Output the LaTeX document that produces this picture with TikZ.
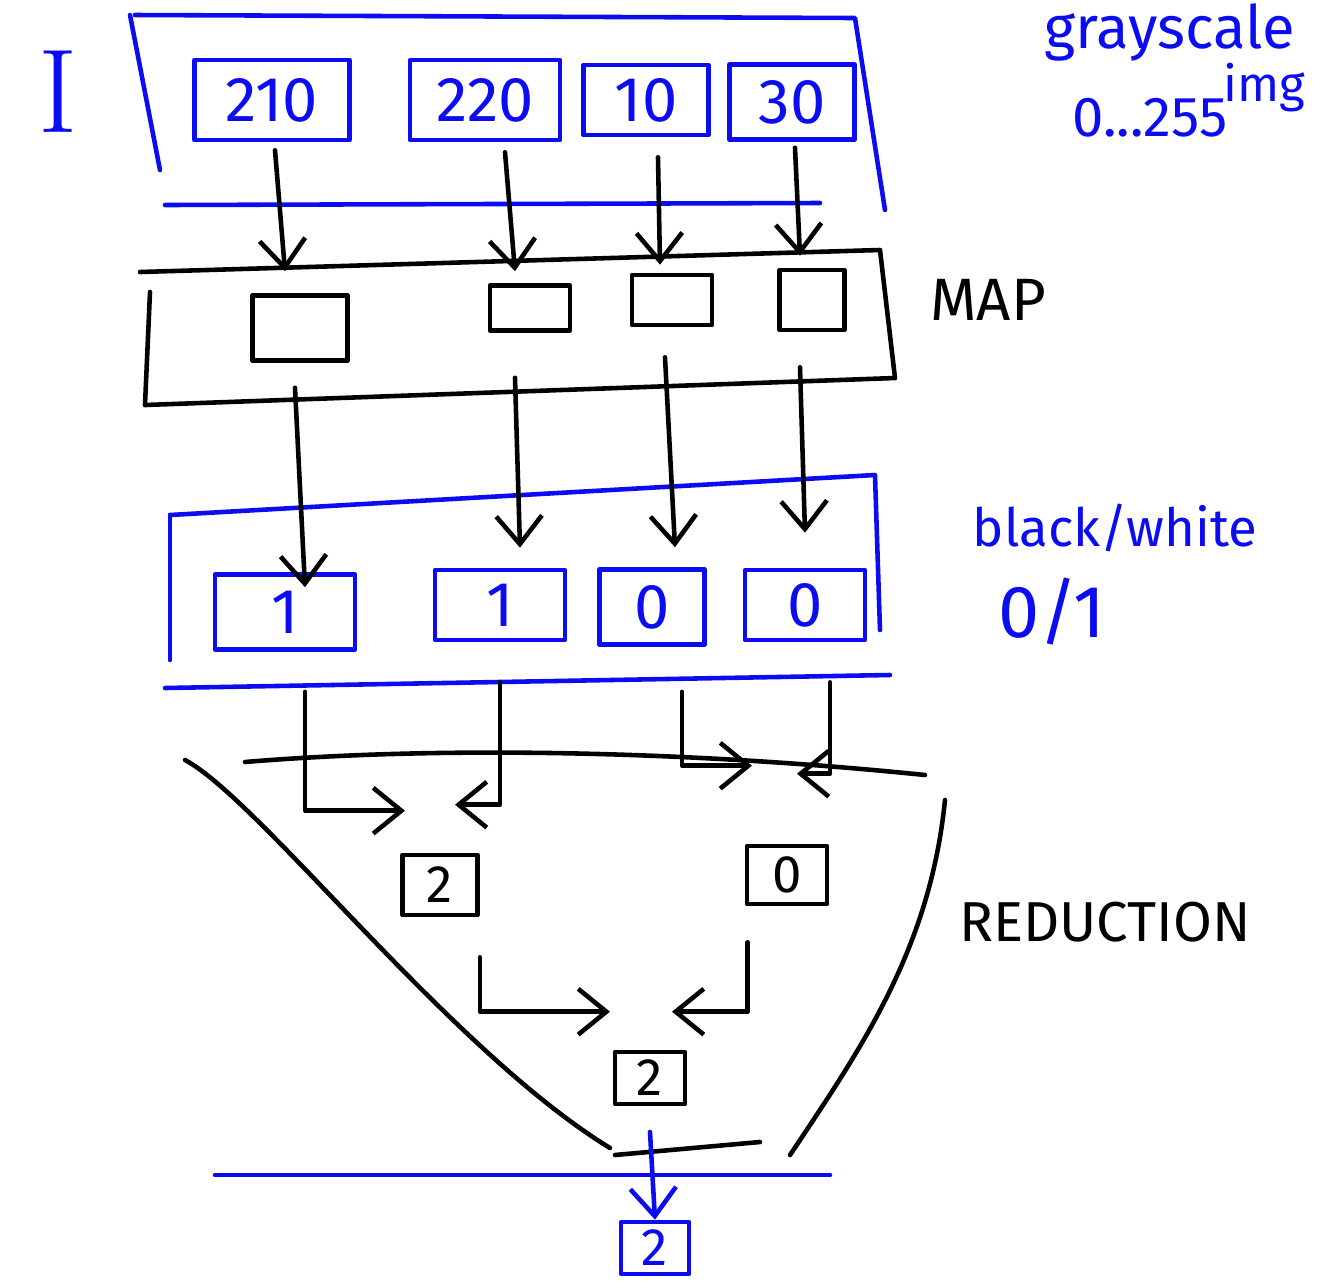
\documentclass[tikz,border=0pt]{standalone}
\usepackage{fontspec}
\setsansfont{Fira Sans}
\usetikzlibrary{calc,arrows.meta}
\definecolor{penblue}{RGB}{12,12,240}
\tikzset{
	ink/.style={line width=1.3pt, line cap=round, line join=round},
	blueink/.style={ink, draw=penblue},
	blackink/.style={ink, draw=black},
	cellbox/.style={inner sep=0pt, font=\sffamily\fontsize{18}{22}\selectfont},
	smallbox/.style={inner sep=0pt, font=\sffamily\fontsize{15}{18}\selectfont},
	gcell/.style={cellbox, blueink, text=penblue},
	kcell/.style={cellbox, blackink},
	arr/.style={blackink, -{Straight Barb[length=8pt,width=13pt]}},
	barr/.style={blueink, -{Straight Barb[length=8pt,width=13pt]}},
	bluelabel/.style={text=penblue, font=\sffamily\fontsize{16}{20}\selectfont},
	blacklabel/.style={font=\sffamily\fontsize{16}{20}\selectfont}
}

\begin{document}
\begin{tikzpicture}[x=0.01cm, y=-0.01cm]
			%%%%% START %%%%%
			\useasboundingbox (0, 0) rectangle (1317, 1281);
			
			% grayscale input
			\node[text=penblue, font=\rmfamily\fontsize{34}{38}\selectfont] (imgI) at (58, 92) {I};
			\draw[blueink] (130, 15) -- (160, 170);
			\draw[blueink] (135, 15) -- (855, 18) -- (885, 210);
			\draw[blueink] (165, 205) -- (820, 203);
			\node[gcell, minimum width=1.55cm, minimum height=0.8cm] (in1) at (272, 100) {210};
			\node[gcell, minimum width=1.5cm, minimum height=0.8cm] (in2) at (485, 100) {220};
			\node[gcell, minimum width=1.25cm, minimum height=0.7cm] (in3) at (646, 100) {10};
			\node[gcell, minimum width=1.25cm, minimum height=0.75cm] (in4) at (792, 102) {30};
			\node[bluelabel, font=\sffamily\fontsize{17}{20}\selectfont] (grayl) at (1170, 32) {grayscale};
			\node[bluelabel, font=\sffamily\fontsize{14}{16}\selectfont] (imgl) at (1264, 88) {img};
			\node[bluelabel] (rangel) at (1150, 118) {0...255};
			
			% map
			\draw[blackink] (140, 272) -- (880, 250) -- (895, 378);
			\draw[blackink] (150, 292) -- (145, 405);
			\draw[blackink] (145, 405) -- (895, 378);
			\node[kcell, minimum width=0.95cm, minimum height=0.65cm] (m1) at (300, 328) {};
			\node[kcell, minimum width=0.8cm, minimum height=0.45cm] (m2) at (530, 308) {};
			\node[kcell, minimum width=0.8cm, minimum height=0.5cm] (m3) at (672, 300) {};
			\node[kcell, minimum width=0.65cm, minimum height=0.6cm] (m4) at (812, 300) {};
			\node[blacklabel, font=\sffamily\fontsize{17}{20}\selectfont] (mapl) at (988, 300) {MAP};
			
			\draw[arr] ($(in1.south)+(3, 8)$) -- ($(m1.north)+(-15, -22)$);
			\draw[arr] ($(in2.south)+(20, 10)$) -- ($(m2.north)+(-15, -12)$);
			\draw[arr] ($(in3.south)+(12, 20)$) -- ($(m3.north)+(-12, -8)$);
			\draw[arr] ($(in4.south)+(3, 6)$) -- ($(m4.north)+(-12, -12)$);
			
			% black/white
			\draw[blueink] (170, 515) -- (170, 660);
			\draw[blueink] (170, 515) -- (875, 475) -- (880, 630);
			\draw[blueink] (165, 688) -- (890, 675);
			\node[gcell, minimum width=1.4cm, minimum height=0.75cm] (b1) at (285, 612) {1};
			\node[gcell, minimum width=1.3cm, minimum height=0.7cm] (b2) at (500, 605) {1};
			\node[gcell, minimum width=1.05cm, minimum height=0.75cm] (b3) at (652, 607) {0};
			\node[gcell, minimum width=1.2cm, minimum height=0.7cm] (b4) at (805, 605) {0};
			\node[bluelabel, font=\sffamily\fontsize{15}{18}\selectfont] (bwl) at (1115, 528) {black/white};
			\node[bluelabel, font=\sffamily\fontsize{21}{24}\selectfont] (bwr) at (1052, 612) {0/1};
			
			\draw[arr] ($(m1.south)+(-5, 25)$) -- ($(b1.north)+(20, 15)$);
			\draw[arr] ($(m2.south)+(-15, 45)$) -- ($(b2.north)+(20, -20)$);
			\draw[arr] ($(m3.south)+(-7, 30)$) -- ($(b3.north)+(23, -20)$);
			\draw[arr] ($(m4.south)+(-12, 35)$) -- ($(b4.north)+(0, -35)$);
			
			% reduction
			\draw[blackink] (245, 762) .. controls (450, 745) and (700, 752) .. (925, 775);
			\draw[blackink] (185, 760) .. controls (260, 800) and (450, 1050) .. (610, 1148);
			\draw[blackink] (945, 800) .. controls (930, 950) and (860, 1050) .. (790, 1155);
			\draw[blackink] (615, 1155) -- (760, 1142);
			\node[kcell, smallbox, minimum width=0.75cm, minimum height=0.6cm] (r1) at (440, 885) {2};
			\node[kcell, smallbox, minimum width=0.8cm, minimum height=0.58cm] (r2) at (787, 875) {0};
			\node[kcell, smallbox, minimum width=0.7cm, minimum height=0.52cm] (r3) at (650, 1078) {2};
			\node[blacklabel] (redl) at (1105, 922) {REDUCTION};
			
			\draw[arr] ($(b1.south)+(20, 40)$) |- ($(r1.north)+(-35, -42)$);
			\draw[arr] ($(b2.south)+(0, 40)$) |- ($(r1.north)+(15, -48)$);
			\draw[arr] ($(b3.south)+(30, 45)$) |- ($(r2.north)+(-35, -78)$);
			\draw[arr] ($(b4.south)+(25, 40)$) |- ($(r2.north)+(10, -70)$);
			\draw[arr] ($(r1.south east)+(0, 40)$) |- ($(r3.north)+(-40, -38)$);
			\draw[arr] ($(r2.south west)+(3, 36)$) |- ($(r3.north)+(22, -38)$);
			
			% result
			\draw[blueink] (215, 1175) -- (830, 1175);
			\node[gcell, smallbox, minimum width=0.68cm, minimum height=0.52cm] (out) at (655, 1248) {2};
			\coordinate (sum) at (650, 1132);
			\draw[barr] (sum) -- (out.north);
			
			%%%%% END %%%%%
\end{tikzpicture}
\end{document}
